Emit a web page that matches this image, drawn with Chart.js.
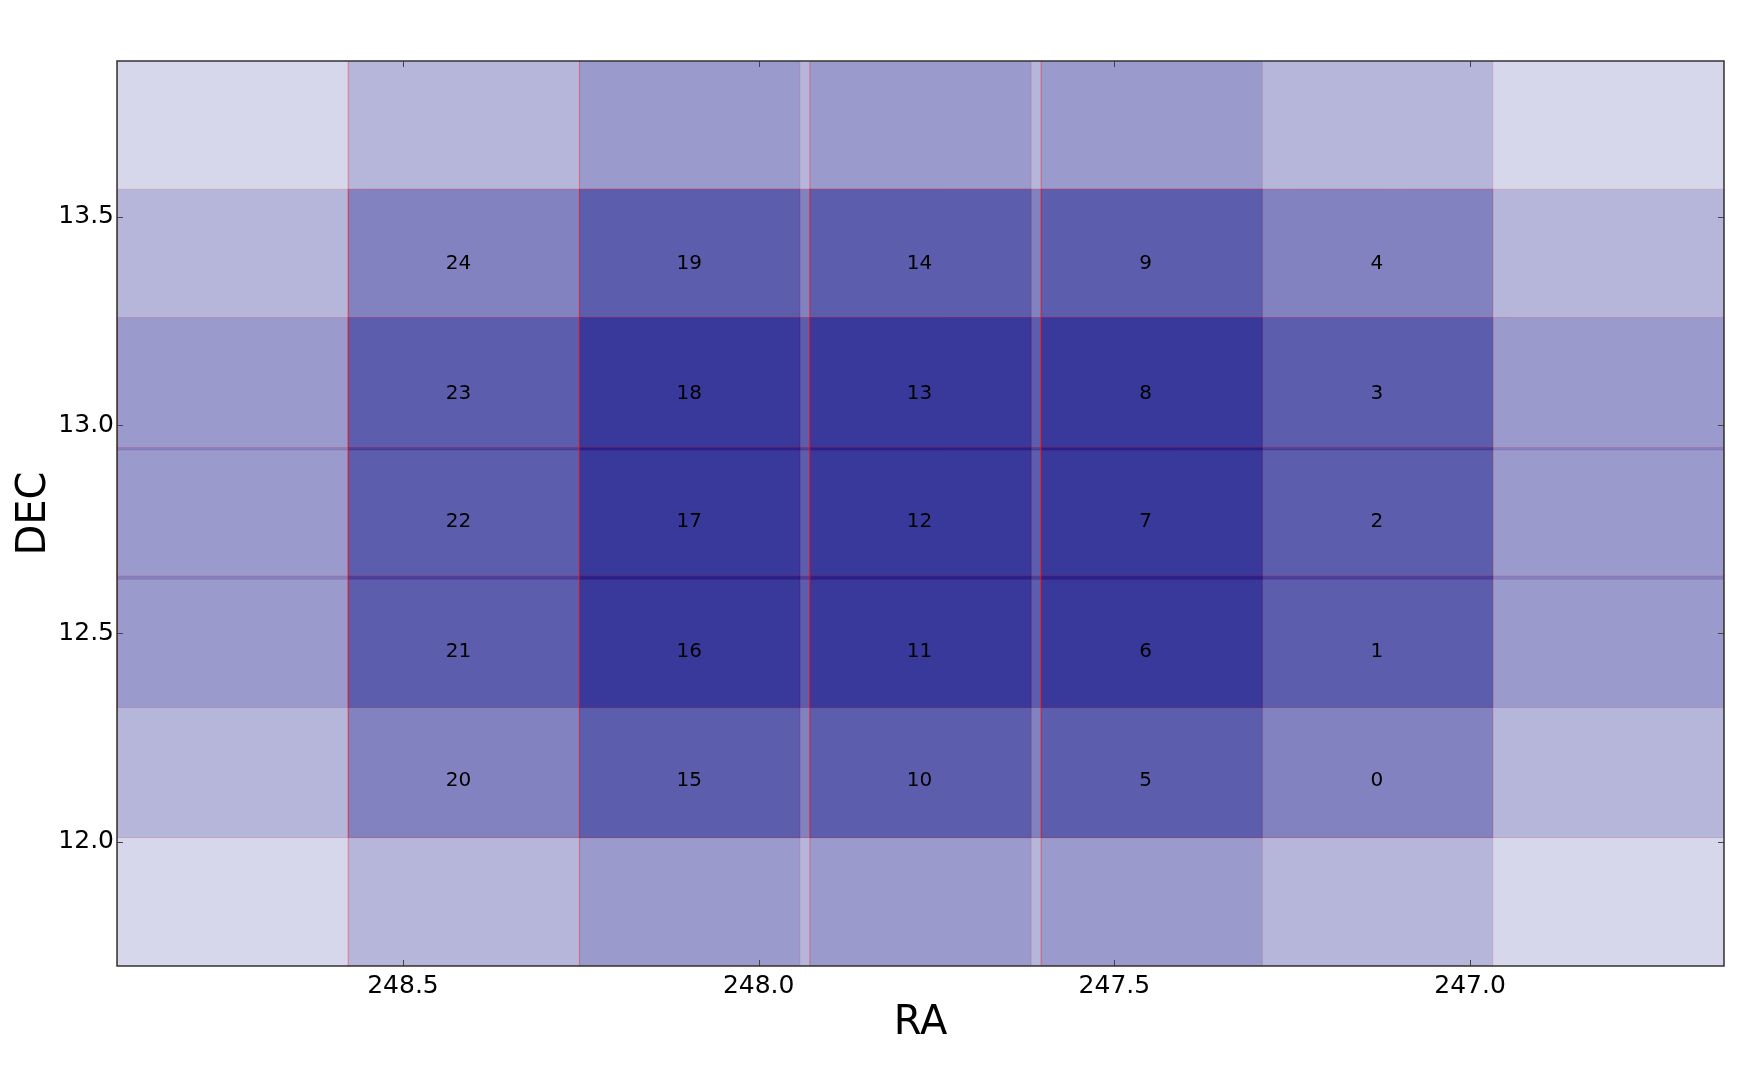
<!DOCTYPE html>
<html lang="en">
<head>
  <meta charset="UTF-8" />
  <title>Field layout RA / DEC</title>
  <script src="https://cdn.jsdelivr.net/npm/chart.js"></script>
  <style>
    body { margin: 0; background: #fff; }
    #wrap { width: 1749px; height: 1086px; position: relative; }
  </style>
</head>
<body>
  <div id="wrap"><canvas id="fieldChart"></canvas></div>

  <script>
    // field columns: east edge (larger RA) for fields 0-4, 5-9, 10-14, 15-19, 20-24
    const colRaEast = [247.603, 247.928, 248.252, 248.577, 248.902];
    const fieldWidth = 0.960;
    // field rows: south edge in DEC, row 0 at the bottom
    const rowDecSouth = [11.702, 12.010, 12.322, 12.630, 12.940];
    const fieldHeight = 0.936;

    // where the field numbers sit
    const labelRa = [247.131, 247.456, 247.774, 248.0975, 248.422];
    const labelDec = [12.147, 12.4565, 12.768, 13.076, 13.386];

    const raTicks = [247.0, 247.5, 248.0, 248.5];
    const decTicks = [12.0, 12.5, 13.0, 13.5];
    const raRange = [246.643, 248.902];
    const decRange = [11.702, 13.8735];

    const datasets = [];
    for (let i = 0; i < 25; i++) {
      const c = Math.floor(i / 5), r = i % 5;
      const e = colRaEast[c], w = e - fieldWidth;
      const s = rowDecSouth[r], n = s + fieldHeight;
      datasets.push({
        label: 'field ' + i,
        data: [{x: e, y: s}, {x: w, y: s}, {x: w, y: n}, {x: e, y: n}, {x: e, y: s}],
        showLine: true,
        fill: 'shape',
        backgroundColor: 'rgba(0, 0, 128, 0.155)',
        borderColor: 'rgba(255, 0, 0, 0.15)',
        borderWidth: 1,
        pointRadius: 0,
        tension: 0
      });
    }

    // frame, inward ticks on all four sides, and the field numbers
    const decorations = {
      id: 'decorations',
      afterDatasetsDraw(chart) {
        const {ctx, chartArea: a, scales: {x, y}} = chart;
        ctx.save();
        ctx.fillStyle = '#000';
        ctx.font = '20px "DejaVu Sans"';
        ctx.textAlign = 'center';
        ctx.textBaseline = 'middle';
        for (let i = 0; i < 25; i++) {
          const c = Math.floor(i / 5), r = i % 5;
          ctx.fillText(String(i), x.getPixelForValue(labelRa[c]), y.getPixelForValue(labelDec[r]));
        }
        ctx.strokeStyle = '#444';
        ctx.lineWidth = 1;
        const len = 6;
        raTicks.forEach(v => {
          const px = Math.round(x.getPixelForValue(v)) + 0.5;
          ctx.beginPath();
          ctx.moveTo(px, a.bottom); ctx.lineTo(px, a.bottom - len);
          ctx.moveTo(px, a.top); ctx.lineTo(px, a.top + len);
          ctx.stroke();
        });
        decTicks.forEach(v => {
          const py = Math.round(y.getPixelForValue(v)) + 0.5;
          ctx.beginPath();
          ctx.moveTo(a.left, py); ctx.lineTo(a.left + len, py);
          ctx.moveTo(a.right, py); ctx.lineTo(a.right - len, py);
          ctx.stroke();
        });
        ctx.strokeStyle = '#333';
        ctx.lineWidth = 1.5;
        ctx.strokeRect(a.left, a.top, a.right - a.left, a.bottom - a.top);
        ctx.restore();
      }
    };

    new Chart(document.getElementById('fieldChart'), {
      type: 'scatter',
      data: { datasets },
      options: {
        responsive: true,
        maintainAspectRatio: false,
        animation: false,
        layout: { padding: { left: 0, right: 25, top: 61, bottom: 0 } },
        plugins: { legend: { display: false }, tooltip: { enabled: false } },
        scales: {
          x: {
            type: 'linear',
            reverse: true,
            min: raRange[0],
            max: raRange[1],
            afterBuildTicks: s => { s.ticks = raTicks.map(v => ({value: v})); },
            afterFit: s => { s.height = 120; },
            grid: { display: false, drawTicks: false },
            border: { display: false },
            ticks: {
              padding: 8,
              color: '#000',
              font: { family: 'DejaVu Sans', size: 25, lineHeight: 1 },
              callback: v => Number(v).toFixed(1)
            },
            title: {
              display: true,
              text: 'RA',
              color: '#000',
              font: { family: 'DejaVu Sans', size: 40, lineHeight: 1 },
              padding: { top: 0, bottom: 42 }
            }
          },
          y: {
            type: 'linear',
            min: decRange[0],
            max: decRange[1],
            afterBuildTicks: s => { s.ticks = decTicks.map(v => ({value: v})); },
            afterFit: s => { s.width = 117; },
            grid: { display: false, drawTicks: false },
            border: { display: false },
            ticks: {
              padding: 3,
              color: '#000',
              font: { family: 'DejaVu Sans', size: 25, lineHeight: 1 },
              callback: v => Number(v).toFixed(1)
            },
            title: {
              display: true,
              text: 'DEC',
              color: '#000',
              font: { family: 'DejaVu Sans', size: 40, lineHeight: 1 },
              padding: { top: 15, bottom: 0 }
            }
          }
        }
      },
      plugins: [decorations]
    });
  </script>
</body>
</html>
